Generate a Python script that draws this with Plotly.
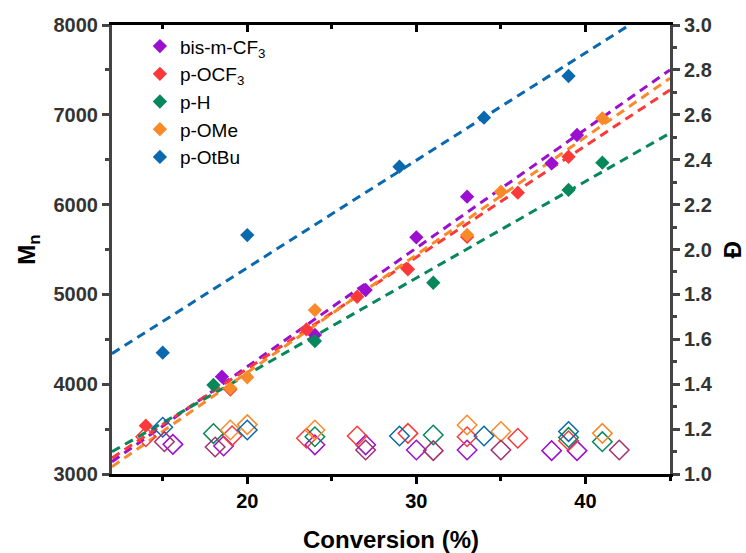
import plotly.graph_objects as go

# ---------------- data ----------------
names = ["bis-m-CF<sub>3</sub>", "p-OCF<sub>3</sub>", "p-H", "p-OMe", "p-OtBu"]
colors = ["#9B0FD0", "#FA3A3A", "#07875A", "#F98A2A", "#0A68AE"]

# Mn (filled diamonds)
mn_x = [
    [18.5, 24, 27, 30, 33, 38, 39.5],
    [14, 19, 23.5, 26.5, 29.5, 33, 36, 39],
    [18, 24, 31, 39, 41],
    [19, 20, 24, 33, 35, 41],
    [15, 20, 29, 34, 39],
]
mn_y = [
    [4084, 4548, 5049, 5636, 6088, 6460, 6775],
    [3538, 3940, 4610, 4974, 5280, 5640, 6133, 6533],
    [3991, 4481, 5130, 6163, 6467],
    [3954, 4077, 4826, 5662, 6144, 6961],
    [4351, 5661, 6422, 6968, 7432],
]

# linear fits
fit_slope = [132.2, 124.2, 107.5, 131.1, 119.6]
fit_intercept = [1551, 1688, 1958, 1508, 2905]
fit_range = [12, 45]

# dispersity (open diamonds)
d_x = [
    [15.6, 18.6, 24, 27, 30, 33, 38, 39.5],
    [14, 19.1, 23.5, 26.5, 29.5, 33, 36, 39],
    [18, 24, 31, 39, 41],
    [19, 20, 24, 33, 35, 41],
    [15, 20, 29, 34, 39],
]
d_y = [
    [1.132, 1.125, 1.13, 1.13, 1.107, 1.107, 1.104, 1.104],
    [1.166, 1.17, 1.159, 1.169, 1.181, 1.166, 1.159, 1.148],
    [1.18, 1.166, 1.174, 1.163, 1.144],
    [1.196, 1.22, 1.196, 1.218, 1.189, 1.181],
    [1.208, 1.196, 1.169, 1.169, 1.189],
]
extra_d_x = [15.1, 18.1, 27, 31, 35, 42]
extra_d_y = [1.144, 1.12, 1.107, 1.104, 1.107, 1.107]
extra_color = "#A3306E"

FONT = "Liberation Sans, Arial, sans-serif"

fig = go.Figure()

# fit lines
for i in range(len(names)):
    xs = fit_range
    ys = [fit_intercept[i] + fit_slope[i] * v for v in xs]
    fig.add_trace(go.Scatter(x=xs, y=ys, mode="lines", showlegend=False,
                             line=dict(color=colors[i], width=3, dash="9px,6px"),
                             hoverinfo="skip"))

# dispersity open diamonds
for i in range(len(names)):
    fig.add_trace(go.Scatter(x=d_x[i], y=d_y[i], mode="markers", yaxis="y2",
                             showlegend=False,
                             marker=dict(symbol="diamond-open", size=15,
                                         color=colors[i], line=dict(width=1.5, color=colors[i]))))
fig.add_trace(go.Scatter(x=extra_d_x, y=extra_d_y, mode="markers", yaxis="y2",
                         showlegend=False,
                         marker=dict(symbol="diamond-open", size=15,
                                     color=extra_color, line=dict(width=1.5, color=extra_color))))

# Mn filled diamonds
for i in range(len(names)):
    fig.add_trace(go.Scatter(x=mn_x[i], y=mn_y[i], mode="markers", name=names[i],
                             marker=dict(symbol="diamond", size=11, color=colors[i],
                                         line=dict(width=0))))

# dummy trace to keep top axis alive
fig.add_trace(go.Scatter(x=[None], y=[None], xaxis="x2", yaxis="y", showlegend=False,
                         hoverinfo="skip"))

tickfont = dict(family=FONT, size=20, color="#333333", weight="bold")

fig.update_layout(
    width=746, height=553,
    margin=dict(l=112, r=76, t=25, b=79),
    plot_bgcolor="white", paper_bgcolor="white",
    font=dict(family=FONT, color="black"),
    xaxis=dict(range=[12, 45], tick0=0, dtick=10, ticks="outside", ticklen=7,
               tickwidth=3, tickcolor="black", showline=True, linewidth=3,
               linecolor="black", showgrid=False, zeroline=False, automargin=False,
               minor=dict(dtick=5, tick0=0, ticks="outside", ticklen=4, tickwidth=3,
                          tickcolor="black"),
               tickfont=dict(family=FONT, size=20, color="black", weight="bold"),
               title=dict(text="Conversion (%)", standoff=22,
                          font=dict(family=FONT, size=24, color="black", weight="bold"))),
    xaxis2=dict(overlaying="x", matches="x", side="top", anchor="y", range=[12, 45],
                tick0=0, dtick=10, ticks="inside", ticklen=7, tickwidth=3,
                tickcolor="black", showline=True, linewidth=3, linecolor="black",
                showgrid=False, zeroline=False, showticklabels=False, automargin=False,
                minor=dict(dtick=5, tick0=0, ticks="inside", ticklen=4, tickwidth=3,
                           tickcolor="black")),
    yaxis=dict(range=[3000, 8000], dtick=1000, ticks="outside", ticklen=7, tickwidth=3,
               tickcolor="#444444", showline=True, linewidth=3, linecolor="#444444",
               showgrid=False, zeroline=False, automargin=False,
               minor=dict(dtick=500, ticks="outside", ticklen=4, tickwidth=3,
                          tickcolor="#444444"),
               tickfont=tickfont,
               title=dict(text="M<sub>n</sub>", standoff=12,
                          font=dict(family=FONT, size=24, color="black", weight="bold"))),
    yaxis2=dict(overlaying="y", side="right", anchor="x", range=[1, 3], dtick=0.2,
                tick0=1, tickformat=".1f", ticks="outside", ticklen=7, tickwidth=3,
                tickcolor="#444444", showline=True, linewidth=3, linecolor="#444444",
                showgrid=False, zeroline=False, automargin=False,
                minor=dict(dtick=0.1, ticks="outside", ticklen=4, tickwidth=3,
                           tickcolor="#444444"),
                tickfont=tickfont,
                title=dict(text="Đ", standoff=16,
                           font=dict(family=FONT, size=24, color="black", weight="bold"))),
    legend=dict(x=0.05, y=0.995, xanchor="left", yanchor="top",
                bgcolor="rgba(0,0,0,0)", tracegroupgap=0,
                font=dict(family=FONT, size=19, color="black")),
    showlegend=True,
)

fig.write_html("out.html", config={"displayModeBar": False},
               post_script="document.body.style.margin='0';document.body.style.overflow='hidden';")
